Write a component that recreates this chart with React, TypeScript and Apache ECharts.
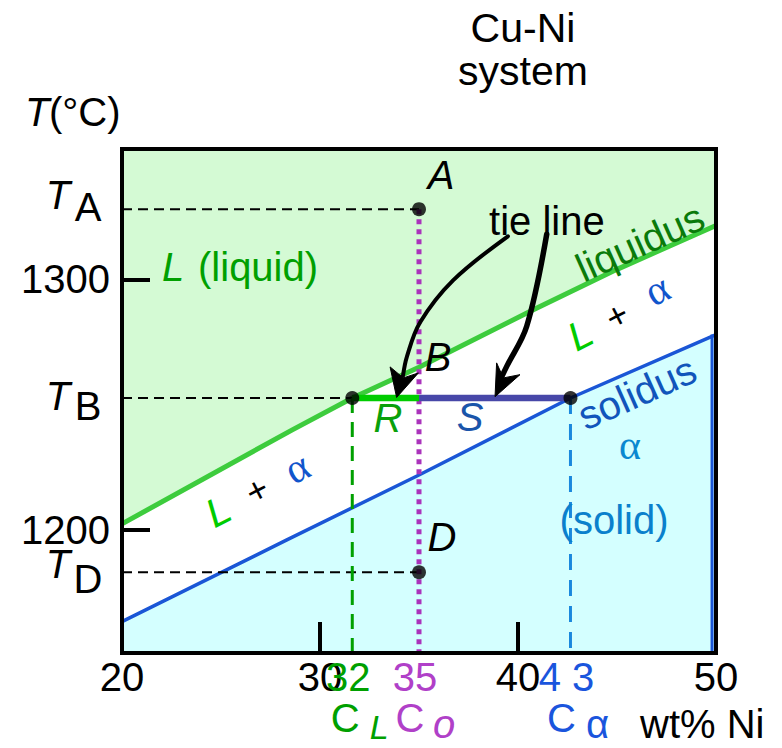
import React, { useEffect, useRef } from 'react';
import * as echarts from 'echarts';

// ---- data (wt% Ni, °C) ----
const X_MIN = 20;
const X_MAX = 50;
const Y_MIN = 1151;
const Y_MAX = 1352;
const xTickLabels = [20, 30, 40, 50];
const xInnerTicks = [30, 40];
const yTickLabels = [1200, 1300];

const liquidus: number[][] = [
  [20, 1202.5], [28.6, 1240], [31.63, 1252.7], [35, 1265], [40.8, 1288], [45, 1304], [50, 1321.5],
];
const solidus: number[][] = [
  [20, 1163.5], [28.3, 1196], [35, 1222], [42.65, 1252.7], [50, 1278],
];
const niEdge = 49.8; // pure-Ni side boundary (drawn just inside the frame)

const C0 = 35;
const CL = 31.63;
const CALPHA = 42.65;
const TA = 1328;
const TB = 1252.7;
const TD = 1183.2;

const compLabels = ['32', '35', '4 3'];

// ---- styling ----
const FONT = "'Liberation Sans', Arial, Helvetica, sans-serif";
const SERIF = "'Liberation Serif', 'DejaVu Serif', serif";
const GRID = { left: 122, right: 66, top: 149, bottom: 95 };
const W = 782;
const H = 748;

const GREEN_FILL = '#d4fad4';
const CYAN_FILL = '#d4ffff';
const LIQ = '#3dcc3d';
const SOL = '#1a56d6';
const PURPLE = '#aa33bb';

function txt(x: number, y: number, text: string, o: any = {}) {
  return {
    type: 'text',
    x,
    y,
    z: 100,
    silent: true,
    rotation: o.rot ? (o.rot * Math.PI) / 180 : 0,
    style: {
      text,
      fill: o.color || '#000',
      fontSize: o.size || 40,
      fontFamily: o.family || FONT,
      fontStyle: o.italic ? 'italic' : 'normal',
      align: o.align || 'center',
      verticalAlign: 'middle',
    },
  };
}

function seg(data: number[][], color: string, width: number, type: any = 'solid', z = 3) {
  return {
    type: 'line',
    data,
    symbol: 'none',
    silent: true,
    z,
    lineStyle: { color, width, type, cap: 'butt', join: 'round' },
  };
}

export default function App() {
  const ref = useRef<HTMLDivElement>(null);

  useEffect(() => {
    if (!ref.current) return;
    const chart = echarts.init(ref.current, undefined, { renderer: 'svg' });

    chart.setOption({
      animation: false,
      backgroundColor: '#fff',
      grid: { ...GRID, show: false },
      xAxis: {
        type: 'value',
        min: X_MIN,
        max: X_MAX,
        interval: 10,
        z: 10,
        axisLine: { show: false },
        splitLine: { show: false },
        axisTick: { show: true, inside: true, length: 31, customValues: xInnerTicks, lineStyle: { color: '#000', width: 4 } },
        axisLabel: {
          customValues: xTickLabels,
          color: '#000',
          fontSize: 40,
          fontFamily: FONT,
          margin: 4,
          formatter: (v: number) => String(v),
        },
      },
      yAxis: {
        type: 'value',
        min: Y_MIN,
        max: Y_MAX,
        z: 10,
        axisLine: { show: false },
        splitLine: { show: false },
        axisTick: { show: true, inside: true, length: 28, customValues: yTickLabels, lineStyle: { color: '#000', width: 4 } },
        axisLabel: {
          customValues: yTickLabels,
          color: '#000',
          fontSize: 40,
          fontFamily: FONT,
          margin: 12,
          formatter: (v: number) => String(v),
        },
      },
      series: [
        {
          type: 'line',
          data: liquidus,
          symbol: 'none',
          silent: true,
          z: 1,
          lineStyle: { width: 0 },
          areaStyle: { color: GREEN_FILL, opacity: 1, origin: 'end' },
        },
        {
          type: 'line',
          data: solidus,
          symbol: 'none',
          silent: true,
          z: 1,
          lineStyle: { width: 0 },
          areaStyle: { color: CYAN_FILL, opacity: 1, origin: 'start' },
        },
        seg(liquidus, LIQ, 5, 'solid', 2),
        seg(solidus, SOL, 3.5, 'solid', 2),
        seg([[niEdge, solidus[solidus.length - 1][1]], [niEdge, Y_MIN]], SOL, 3, 'solid', 2),
        seg([[X_MIN, TA], [C0, TA]], '#000', 2, [10, 6]),
        seg([[X_MIN, TB], [CL, TB]], '#000', 2, [10, 6]),
        seg([[X_MIN, TD], [C0, TD]], '#000', 2, [10, 6]),
        seg([[CL, TB], [CL, Y_MIN]], '#00a000', 3, [15, 9]),
        seg([[CALPHA, TB], [CALPHA, Y_MIN]], '#1a88dd', 3, [16, 10]),
        seg([[C0, TA], [C0, Y_MIN]], PURPLE, 5, [5, 5]),
        seg([[CL, TB], [C0, TB]], '#00cc00', 6.5, 'solid', 4),
        seg([[C0, TB], [CALPHA, TB]], '#4747a8', 6.5, 'solid', 4),
        {
          type: 'scatter',
          data: [[C0, TA], [CL, TB], [CALPHA, TB], [C0, TD]],
          symbol: 'circle',
          symbolSize: 14,
          silent: true,
          z: 6,
          itemStyle: { color: '#000' },
        },
      ],
    });

    const p = (x: number, y: number) => chart.convertToPixel({ gridIndex: 0 }, [x, y]) as number[];
    const P = (pts: number[][]) => pts.map(([x, y]) => p(x, y));

    const arrows = [
      {
        shaft: [[39.49, 1317.2], [36.72, 1299.6], [35.05, 1282.8], [34.39, 1269.2], [34.19, 1261.5]],
        head: [[33.87, 1252.9], [33.54, 1265.1], [34.21, 1260.7], [34.97, 1262.7]],
        width: 4,
      },
      {
        shaft: [[41.45, 1318], [40.44, 1281.3], [39.43, 1265.3], [39.2, 1261.5]],
        head: [[38.84, 1253.2], [38.92, 1266.7], [39.26, 1260.7], [40.1, 1262]],
        width: 5.5,
      },
    ];

    const graphics: any[] = [];
    arrows.forEach((a) => {
      graphics.push({
        type: 'polyline',
        z: 90,
        silent: true,
        shape: { points: P(a.shaft), smooth: 0.35 },
        style: { stroke: '#000', lineWidth: a.width, fill: null, lineCap: 'round' },
      });
      graphics.push({
        type: 'polygon',
        z: 90,
        silent: true,
        shape: { points: P(a.head) },
        style: { fill: '#000', stroke: '#000', lineWidth: 1 },
      });
    });

    const at = (x: number, y: number, text: string, o: any = {}) => {
      const [px, py] = p(x, y);
      return txt(px, py, text, o);
    };

    // in-plot labels
    graphics.push(at(36.11, 1341.6, 'A', { italic: true }));
    graphics.push(at(35.96, 1269.2, 'B', { italic: true }));
    graphics.push(at(36.16, 1197.2, 'D', { italic: true }));
    graphics.push(at(33.43, 1244.8, 'R', { italic: true, color: '#0aa00a' }));
    graphics.push(at(37.58, 1245.2, 'S', { italic: true, color: '#1a55aa' }));
    graphics.push(at(22.02, 1304.8, 'L', { italic: true, color: '#00a000', align: 'left' }));
    graphics.push(at(23.84, 1304.8, '(liquid)', { color: '#00a000', align: 'left' }));
    graphics.push(at(41.46, 1323.3, 'tie line'));
    graphics.push(at(46.16, 1314.8, 'liquidus', { color: '#0a7a0a', rot: 24 }));
    graphics.push(at(46.01, 1254.8, 'solidus', { color: '#1155bb', rot: 24 }));
    graphics.push(at(45.66, 1234, 'α', { color: '#0a88d0', family: SERIF, size: 42 }));
    graphics.push(at(44.85, 1204, '(solid)', { color: '#0a80cc' }));
    // L + α (two-phase region)
    graphics.push(at(24.85, 1207.6, 'L', { italic: true, color: '#00cc00', rot: 27 }));
    graphics.push(at(26.82, 1216, '+', { rot: 27, size: 36 }));
    graphics.push(at(28.84, 1225, 'α', { color: '#1155cc', family: SERIF, rot: 27, size: 42 }));
    graphics.push(at(43.13, 1278, 'L', { italic: true, color: '#00cc00', rot: 27 }));
    graphics.push(at(45.0, 1285.6, '+', { rot: 27, size: 36 }));
    graphics.push(at(47.02, 1296, 'α', { color: '#1155cc', family: SERIF, rot: 27, size: 42 }));

    // temperature labels on the left
    const tLabels: [number, string, number, number][] = [
      [TA, 'A', -14, -2],
      [TB, 'B', -2, 8],
      [TD, 'D', -8, 7],
    ];
    tLabels.forEach(([t, s, dT, dS]) => {
      const py = p(X_MIN, t)[1];
      graphics.push(txt(58, py + dT, 'T', { italic: true }));
      graphics.push(txt(88, py + dS, s, { size: 40 }));
    });

    // composition labels under the axis
    const comps: [number, string, string][] = [
      [CL, compLabels[0], '#00a000'],
      [C0, compLabels[1], '#b040c8'],
      [CALPHA, compLabels[2], '#1a55dd'],
    ];
    comps.forEach(([c, s, col]) => {
      const px = p(c, Y_MIN)[0];
      graphics.push(txt(px - 4, 677, s, { color: col }));
    });
    const pxL = p(CL, Y_MIN)[0];
    const px0 = p(C0, Y_MIN)[0];
    const pxA = p(CALPHA, Y_MIN)[0];
    graphics.push(txt(pxL - 7, 718, 'C', { color: '#00a000' }));
    graphics.push(txt(pxL + 27, 727, 'L', { color: '#00a000', italic: true, size: 34 }));
    graphics.push(txt(px0 - 9, 718, 'C', { color: '#b040c8' }));
    graphics.push(txt(px0 + 25, 724, 'o', { color: '#b040c8', italic: true }));
    graphics.push(txt(pxA - 9, 718, 'C', { color: '#1a55dd' }));
    graphics.push(txt(pxA + 27, 724, 'α', { color: '#1a55dd' }));
    graphics.push(txt(640, 724, 'wt% Ni', { align: 'left' }));

    // axis title & chart title
    graphics.push(txt(25, 112, 'T', { italic: true, align: 'left' }));
    graphics.push(txt(49, 112, '(°C)', { align: 'left' }));
    graphics.push(txt(523, 28, 'Cu-Ni', { size: 41 }));
    graphics.push(txt(523, 71, 'system', { size: 41 }));

    // plot frame
    graphics.push({
      type: 'rect',
      z: 200,
      silent: true,
      shape: { x: GRID.left, y: GRID.top, width: W - GRID.left - GRID.right, height: H - GRID.top - GRID.bottom },
      style: { fill: 'none', stroke: '#000', lineWidth: 4 },
    });

    chart.setOption({ graphic: graphics });

    return () => chart.dispose();
  }, []);

  return <div ref={ref} style={{ position: 'fixed', left: 0, top: 0, width: W, height: H }} />;
}
